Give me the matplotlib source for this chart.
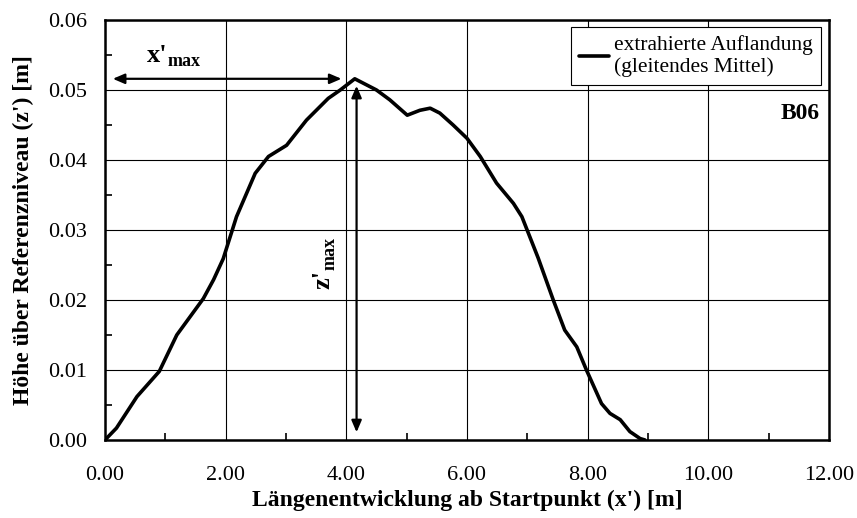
import matplotlib.pyplot as plt
from matplotlib.ticker import MultipleLocator, FormatStrFormatter

# extracted profile (moving average)
x_pos = [0.00, 0.19, 0.53, 0.90, 1.19, 1.41, 1.63, 1.80, 1.96, 2.18, 2.49, 2.71,
         3.01, 3.34, 3.70, 3.90, 4.14, 4.50, 4.72, 5.01, 5.22, 5.39, 5.55, 5.77,
         6.00, 6.22, 6.49, 6.77, 6.91, 7.18, 7.43, 7.62, 7.82, 7.98, 8.23, 8.37,
         8.54, 8.70, 8.87, 8.95]
z_height = [0.0000, 0.0017, 0.0062, 0.0098, 0.0150, 0.0176, 0.0202, 0.0229, 0.0259,
            0.0319, 0.0381, 0.0405, 0.0421, 0.0457, 0.0488, 0.0500, 0.0516, 0.0500,
            0.0486, 0.0464, 0.0471, 0.0474, 0.0467, 0.0450, 0.0431, 0.0405, 0.0367,
            0.0338, 0.0319, 0.0260, 0.0200, 0.0157, 0.0133, 0.0100, 0.0052, 0.0038,
            0.0029, 0.0012, 0.0002, 0.0000]

x_max = 4.17
z_max = 0.0516

plt.rcParams['font.family'] = ['Liberation Serif', 'DejaVu Serif']

fig = plt.figure(figsize=(8.57, 5.18), dpi=100)
ax = fig.add_axes([0.1225, 0.1506, 0.8448, 0.8108])

ax.plot(x_pos, z_height, color='black', lw=2.6, label='extrahierte Auflandung\n(gleitendes Mittel)',
        solid_capstyle='round', solid_joinstyle='round', zorder=3)

ax.set_xlim(0, 12)
ax.set_ylim(0, 0.06)
ax.xaxis.set_major_locator(MultipleLocator(2))
ax.xaxis.set_minor_locator(MultipleLocator(1))
ax.yaxis.set_major_locator(MultipleLocator(0.01))
ax.yaxis.set_minor_locator(MultipleLocator(0.005))
ax.xaxis.set_major_formatter(FormatStrFormatter('%.2f'))
ax.yaxis.set_major_formatter(FormatStrFormatter('%.2f'))
ax.grid(True, which='major', color='black', lw=0.8)
ax.tick_params(which='both', direction='in', labelsize=16, width=1.2)
ax.tick_params(which='major', length=0)
ax.tick_params(which='minor', length=5)
ax.tick_params(axis='x', pad=19)
ax.tick_params(axis='y', pad=13)
for s in ax.spines.values():
    s.set_linewidth(1.8)

ax.set_xlabel("Längenentwicklung ab Startpunkt (x') [m]", fontsize=17, fontweight='bold', labelpad=3)
ax.set_ylabel("Höhe über Referenzniveau (z') [m]", fontsize=17, fontweight='bold', labelpad=10)

# x'max and z'max arrows
arrow = dict(arrowstyle='<|-|>,head_length=0.7,head_width=0.3', color='black', lw=1.6,
             shrinkA=0, shrinkB=0)
ax.annotate('', xy=(0.13, z_max), xytext=(x_max - 0.25, z_max), arrowprops=arrow)
ax.text(1.03, 0.0540, "x'", fontsize=19, fontweight='bold', ha='right', va='baseline')
ax.text(1.03, 0.0534, "max", fontsize=13, fontweight='bold', ha='left', va='baseline')
ax.annotate('', xy=(x_max, 0.0506), xytext=(x_max, 0.0011), arrowprops=arrow)
ax.text(3.80, 0.0243, "z'", fontsize=19, fontweight='bold', ha='right', va='top', rotation=90)
ax.text(3.87, 0.0243, "max", fontsize=13, fontweight='bold', ha='right', va='bottom', rotation=90)

ax.text(11.85, 0.0467, 'B06', fontsize=17, fontweight='bold', ha='right', va='center')

leg = ax.legend(loc='upper right', bbox_to_anchor=(0.9945, 0.993), fontsize=15.5, frameon=True,
                fancybox=False, edgecolor='black', framealpha=1, handlelength=1.4,
                handletextpad=0.25, borderpad=0.35, borderaxespad=0.2)
leg.get_frame().set_linewidth(0.8)

fig.savefig('out.png', dpi=100)
